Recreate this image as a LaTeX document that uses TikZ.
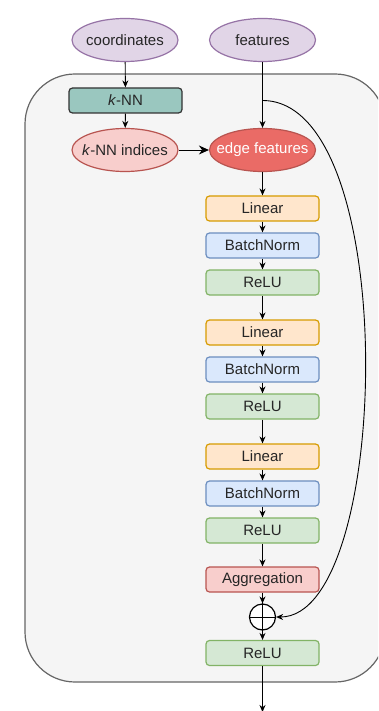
\documentclass[tikz,border=0pt]{standalone}
\usepackage{fontspec}
\setmainfont{Liberation Sans}
\usetikzlibrary{shapes.geometric,arrows.meta}
\definecolor{purF}{HTML}{E1D5E7}\definecolor{purD}{HTML}{9673A6}
\definecolor{orF}{HTML}{FFE6CC}\definecolor{orD}{HTML}{D79B00}
\definecolor{blF}{HTML}{DAE8FC}\definecolor{blD}{HTML}{6C8EBF}
\definecolor{grF}{HTML}{D5E8D4}\definecolor{grD}{HTML}{82B366}
\definecolor{rdF}{HTML}{F8CECC}\definecolor{rdD}{HTML}{B85450}
\definecolor{edF}{HTML}{EA6B66}
\definecolor{knF}{HTML}{9AC7BF}
\definecolor{boxF}{HTML}{F5F5F5}\definecolor{boxD}{HTML}{666666}
\newcommand{\ovtext}[1]{\makebox[0pt]{#1}}
\begin{document}
\begin{tikzpicture}[x=1pt,y=-1pt,
  every node/.style={font=\fontsize{15}{18}\selectfont, text=black!85},
  oval/.style={ellipse, minimum width=106pt, minimum height=43pt, inner sep=0pt, line width=1.2pt},
  blk/.style={rectangle, rounded corners=3.5pt, minimum width=113pt, minimum height=25pt, inner sep=0pt, line width=1.2pt},
  linbox/.style={blk, fill=orF, draw=orD},
  bnbox/.style={blk, fill=blF, draw=blD},
  relubox/.style={blk, fill=grF, draw=grD},
  conn/.style={line width=0.9pt, -{Stealth[length=7pt,width=6pt]}}
]
\clip (0,0) rectangle (378,711);
\fill[white] (0,0) rectangle (378,711);
\draw[fill=boxF, draw=boxD, line width=1.2pt, rounded corners=50pt] (25,74) rectangle (385,682);

\node[oval, fill=purF, draw=purD] (coord) at (125,40) {\ovtext{coordinates}};
\node[oval, fill=purF, draw=purD] (feat) at (262.5,40) {\ovtext{features}};
\node[blk, fill=knF, draw=black!80] (knn) at (125.5,100.5) {\textit{k}-NN};
\node[oval, fill=rdF, draw=rdD] (knni) at (125,150) {\ovtext{\textit{k}-NN indices}};
\node[oval, fill=edF, draw=rdD, text=white] (edge) at (262.5,150) {\ovtext{edge features}};

\node[linbox] (l1) at (262.5,208.5) {Linear};
\node[bnbox] (b1) at (262.5,245.5) {BatchNorm};
\node[relubox] (r1) at (262.5,282.5) {ReLU};
\node[linbox] (l2) at (262.5,332.5) {Linear};
\node[bnbox] (b2) at (262.5,369.5) {BatchNorm};
\node[relubox] (r2) at (262.5,406.5) {ReLU};
\node[linbox] (l3) at (262.5,456.5) {Linear};
\node[bnbox] (b3) at (262.5,493.5) {BatchNorm};
\node[relubox] (r3) at (262.5,530.5) {ReLU};
\node[blk, fill=rdF, draw=rdD] (agg) at (262.5,579.5) {Aggregation};
\node[circle, draw=black, fill=white, line width=1.2pt, minimum size=26pt, inner sep=0pt] (plus) at (262.5,617) {};
\draw[line width=1pt] (plus.north) -- (plus.south) (plus.west) -- (plus.east);
\node[relubox] (r4) at (262.5,653) {ReLU};
\coordinate (out) at (262.5,712);
\coordinate (branch) at (262.5,100.5);

\draw[conn] (coord) -- (knn);
\draw[conn] (knn) -- (knni);
\draw[line width=0.9pt, -{Stealth[length=10pt,width=9pt]}] (knni) -- (edge);
\draw[conn] (feat) -- (edge);
\draw[conn] (edge) -- (l1);
\draw[conn] (l1) -- (b1);
\draw[conn] (b1) -- (r1);
\draw[conn] (r1) -- (l2);
\draw[conn] (l2) -- (b2);
\draw[conn] (b2) -- (r2);
\draw[conn] (r2) -- (l3);
\draw[conn] (l3) -- (b3);
\draw[conn] (b3) -- (r3);
\draw[conn] (r3) -- (agg);
\draw[conn] (agg) -- (plus);
\draw[conn] (plus) -- (r4);
\draw[conn] (r4) -- (out);
\draw[conn] (branch) .. controls (402,100.5) and (392,617) .. (plus.east);
\end{tikzpicture}
\end{document}
